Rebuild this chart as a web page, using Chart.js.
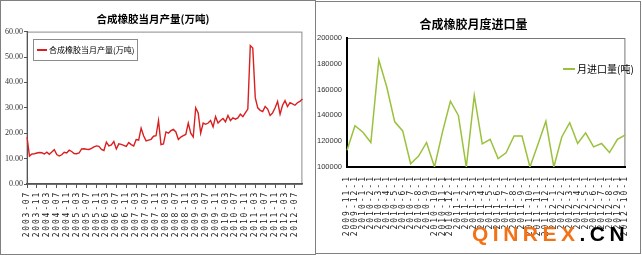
<!DOCTYPE html>
<html>
<head>
<meta charset="utf-8">
<script src="https://cdn.jsdelivr.net/npm/chart.js@4.4.0/dist/chart.umd.min.js"></script>
<style>
body { margin:0; background:#fff; width:642px; height:255px; overflow:hidden; position:relative; }
.panel { position:absolute; border:1px solid #808080; box-sizing:border-box; background:#fff; }
#leftPanel { left:0; top:0; width:316px; height:255px; }
#rightPanel { left:315px; top:1px; width:326px; height:253px; }
canvas { position:absolute; left:0; top:0; }
#mark { position:absolute; left:472px; top:223px; font:bold 21px "Liberation Sans", Arial, sans-serif; line-height:21px; letter-spacing:4.5px; color:#f47216; white-space:nowrap; }
#mark span { color:#000; }
</style>
</head>
<body>
<div class="panel" id="leftPanel"><canvas id="chartProduction" width="314" height="253"></canvas></div>
<div class="panel" id="rightPanel"><canvas id="chartImport" width="324" height="251"></canvas></div>
<div id="mark">QINREX<span>.CN</span></div>
<script>
// monthly output, 10k tonnes, 2003-07 .. 2012-10
const productionValues = [
    18.5, 11.0, 11.8, 11.9, 12.2, 12.4, 12.3, 11.8, 12.5, 11.7, 12.6, 13.5,
    11.6, 11.0, 11.5, 12.5, 12.2, 13.3, 12.8, 12.0, 11.9, 12.2, 13.8, 13.9,
    13.7, 13.6, 14.0, 14.6, 15.0, 14.8, 13.6, 13.2, 16.5, 15.0, 15.4, 16.7,
    13.8, 15.8, 15.6, 15.2, 14.8, 16.3, 15.5, 15.0, 17.5, 17.3, 22.0, 19.0,
    17.0, 17.3, 17.6, 18.8, 19.0, 25.0, 15.5, 15.8, 20.5, 20.0, 21.0, 21.5,
    20.5, 17.5, 18.5, 19.0, 19.5, 24.0, 20.0, 18.5, 30.0, 28.0, 20.0, 24.0,
    23.5, 24.0, 25.0, 22.5, 26.5, 24.0, 25.0, 25.8, 24.5, 27.0, 25.0, 26.0,
    25.5, 26.0, 27.5, 26.5, 28.0, 29.5, 54.5, 53.5, 34.0, 30.0, 29.0, 28.5,
    30.5, 29.5, 27.0, 28.0, 30.0, 32.5, 27.5, 31.0, 32.8, 30.5, 32.0, 31.5,
    31.0, 32.0, 32.5, 33.5
];

// monthly imports, tonnes
const importMonths = [
    '2009-11-1', '2009-12-1',
    '2010-1-1', '2010-2-1', '2010-3-1', '2010-4-1', '2010-5-1', '2010-6-1',
    '2010-7-1', '2010-8-1', '2010-9-1', '2010-10-1', '2010-11-1', '2010-12-1',
    '2011-1-1', '2011-2-1', '2011-3-1', '2011-4-1', '2011-5-1', '2011-6-1',
    '2011-7-1', '2011-8-1', '2011-9-1', '2011-10-1', '2011-11-1', '2011-12-1',
    '2012-1-1', '2012-2-1', '2012-3-1', '2012-4-1', '2012-5-1', '2012-6-1',
    '2012-7-1', '2012-8-1', '2012-9-1', '2012-10-1'
];
const importValues = [
    113000, 132000, 127000, 119000, 183000, 162000, 135000, 128000, 102500, 108500,
    119000, 100000, 127000, 151000, 140000, 100000, 155500, 118000, 121500, 106500,
    111000, 124000, 124000, 100000, 117500, 135500, 100000, 123300, 134300, 118200,
    126500, 115600, 118200, 111200, 121500, 124900
];

const productionTicks = [0, 10, 20, 30, 40, 50, 60];
const importTicks = [100000, 120000, 140000, 160000, 180000, 200000];

// category labels for the production chart: yyyy-mm from 2003-07
const productionMonths = [];
for (let y = 2003, m = 7; productionMonths.length < productionValues.length; m++) {
    if (m > 12) { m = 1; y++; }
    productionMonths.push(y + '-' + String(m).padStart(2, '0'));
}

// wide-spaced date labels like the original
function spaceLabels(scale, spacing) {
    if (scale._spaced) return;
    const drawLabels = scale.drawLabels.bind(scale);
    scale.drawLabels = function(area) {
        const ctx = this.ctx;
        const prev = ctx.letterSpacing;
        ctx.letterSpacing = spacing;
        drawLabels(area);
        ctx.letterSpacing = prev;
    };
    scale._spaced = true;
}

const plotFrame = {
    id: 'plotFrame',
    beforeDraw(chart, args, opts) {
        const { ctx, chartArea: a } = chart;
        ctx.save();
        ctx.strokeStyle = opts.color;
        ctx.lineWidth = 1;
        ctx.strokeRect(a.left, a.top + 0.5, a.right - a.left - 0.5, a.bottom - a.top);
        ctx.restore();
    }
};

const lineLegend = {
    id: 'lineLegend',
    afterDraw(chart, args, o) {
        const ctx = chart.ctx;
        const ds = chart.data.datasets[0];
        ctx.save();
        if (o.box) {
            ctx.strokeStyle = '#8c8c8c';
            ctx.lineWidth = 1;
            ctx.strokeRect(o.box[0] + 0.5, o.box[1] + 0.5, o.box[2], o.box[3]);
        }
        ctx.strokeStyle = ds.borderColor;
        ctx.lineWidth = 2;
        ctx.beginPath();
        ctx.moveTo(o.x, o.y);
        ctx.lineTo(o.x + o.lineLength, o.y);
        ctx.stroke();
        ctx.font = o.font;
        ctx.fillStyle = '#000';
        ctx.textBaseline = 'middle';
        ctx.fillText(ds.label, o.x + o.lineLength + 2, o.y);
        ctx.restore();
    }
};

new Chart(document.getElementById('chartProduction'), {
    type: 'line',
    data: {
        labels: productionMonths,
        datasets: [{
            label: '合成橡胶当月产量(万吨)',
            data: productionValues,
            borderColor: '#d91f1f',
            borderWidth: 1.4,
            pointRadius: 0,
            tension: 0,
        }],
    },
    options: {
        responsive: false,
        animation: false,
        layout: { padding: { left: 0, right: 10, top: 0, bottom: 0 } },
        plugins: {
            legend: { display: false },
            tooltip: { enabled: false },
            title: {
                display: true,
                text: '合成橡胶当月产量(万吨)',
                color: '#000',
                font: { family: '"Noto Sans CJK SC"', size: 10.5, weight: 'bold' },
                padding: { top: 12, bottom: 6 },
            },
            plotFrame: { color: '#8a8a8a' },
            lineLegend: { box: [32, 38, 104, 21], x: 36, y: 49, lineLength: 10, font: '8px "Noto Sans CJK SC"' },
        },
        scales: {
            x: {
                grid: {
                    drawOnChartArea: false,
                    tickLength: 4,
                    color: ctx => ctx.index % 4 === 0 ? '#555' : 'rgba(0,0,0,0)',
                },
                border: { color: '#555', width: 1.5 },
                ticks: {
                    autoSkip: false,
                    minRotation: 90,
                    maxRotation: 90,
                    padding: 3,
                    color: '#222',
                    font: { family: '"DejaVu Sans Mono"', size: 8 },
                    callback: (v, i) => i % 4 === 0 ? productionMonths[i] : '',
                },
                afterFit: s => { s.height = 70; spaceLabels(s, '1.8px'); },
            },
            y: {
                min: 0,
                max: 60,
                afterBuildTicks: s => { s.ticks = productionTicks.map(v => ({ value: v })); },
                grid: { drawOnChartArea: false, tickLength: 3, color: '#555' },
                border: { color: '#555', width: 1 },
                ticks: {
                    padding: 1,
                    color: '#333',
                    font: { family: '"Liberation Serif"', size: 8 },
                    callback: v => v.toFixed(2),
                },
                afterFit: s => { s.width = 26; },
            },
        },
    },
    plugins: [plotFrame, lineLegend],
});

new Chart(document.getElementById('chartImport'), {
    type: 'line',
    data: {
        labels: importMonths,
        datasets: [{
            label: '月进口量(吨)',
            data: importValues,
            borderColor: '#9bc13c',
            borderWidth: 1.5,
            pointRadius: 0,
            tension: 0,
        }],
    },
    options: {
        responsive: false,
        animation: false,
        layout: { padding: { left: 0, right: 9, top: 0, bottom: 0 } },
        plugins: {
            legend: { display: false },
            tooltip: { enabled: false },
            title: {
                display: true,
                text: '合成橡胶月度进口量',
                color: '#000',
                font: { family: '"Noto Sans CJK SC"', size: 12, weight: 'bold' },
                padding: { top: 15, bottom: 6.6 },
            },
            plotFrame: { color: '#777' },
            lineLegend: { x: 247, y: 67, lineLength: 12, font: '10px "Noto Sans CJK SC"' },
        },
        scales: {
            x: {
                grid: { drawOnChartArea: false, drawTicks: true, tickLength: 3, color: 'rgba(0,0,0,0)' },
                border: { color: '#000', width: 2 },
                ticks: {
                    autoSkip: false,
                    minRotation: 90,
                    maxRotation: 90,
                    padding: 5,
                    color: '#222',
                    font: { family: '"DejaVu Sans Mono"', size: 8 },
                },
                afterFit: s => { s.height = 86; spaceLabels(s, '2px'); },
            },
            y: {
                min: 100000,
                max: 200000,
                afterBuildTicks: s => { s.ticks = importTicks.map(v => ({ value: v })); },
                grid: { drawOnChartArea: false, tickLength: 2, color: 'rgba(0,0,0,0)' },
                border: { color: '#000', width: 2 },
                ticks: {
                    padding: 3,
                    color: '#333',
                    font: { family: '"Liberation Sans"', size: 7.5 },
                    callback: v => String(v),
                },
                afterFit: s => { s.width = 31; },
            },
        },
    },
    plugins: [plotFrame, lineLegend],
});
</script>
</body>
</html>
